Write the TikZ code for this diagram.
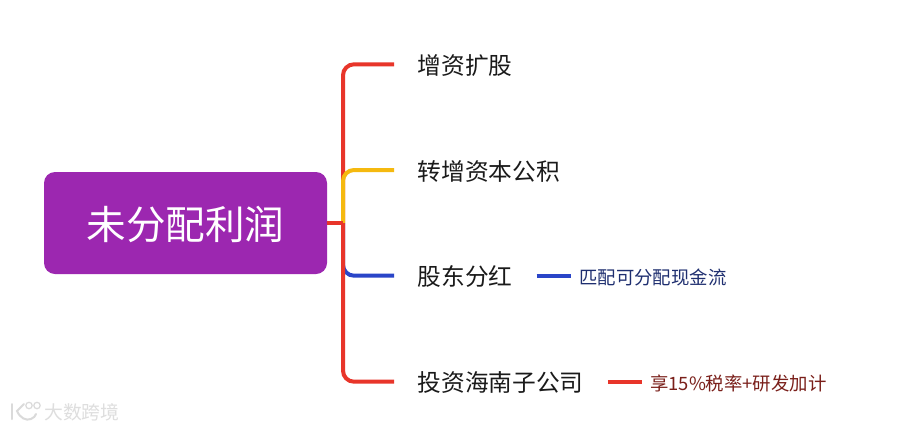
\documentclass[tikz,border=0pt]{standalone}
\usepackage{fontspec}
\setmainfont{Noto Sans CJK SC}
\definecolor{lred}{HTML}{E8352A}
\definecolor{lyellow}{HTML}{F5B90F}
\definecolor{lblue}{HTML}{2A45C8}
\definecolor{rootfill}{HTML}{9C27B0}
\definecolor{subblue}{HTML}{1F2F70}
\definecolor{subred}{HTML}{7A1F1A}
\definecolor{mainink}{HTML}{1A1A1A}
\definecolor{markink}{HTML}{DEDEDE}
\definecolor{markedge}{HTML}{DADADA}
\tikzset{
  rootbox/.style={fill=rootfill,rounded corners=11pt,minimum width=283pt,minimum height=102pt,inner sep=0pt,text=white,text height=37.4pt,text depth=5pt,font=\fontsize{39.6}{40}\selectfont},
  topic/.style={anchor=west,inner sep=0pt,text=mainink,text height=23pt,text depth=3pt,font=\fontsize{23.7}{24}\selectfont},
  subtopic/.style={anchor=west,inner sep=0pt,text height=21pt,text depth=4pt,font=\fontsize{18.4}{19}\selectfont},
  branch/.style={line width=4pt,rounded corners=11pt},
  subtwig/.style={line width=4pt,shorten <=24pt,shorten >=8pt},
  logomark/.style={draw=markedge,line width=2pt,line cap=round},
}
\begin{document}
\begin{tikzpicture}[x=1pt,y=-1pt]
\useasboundingbox (0,0) rectangle (918,429);
\fill[white] (0,0) rectangle (918,429);
\node[rootbox] (root) at (185.5,223) {未分配利润};
\node[topic] (a) at (417.5,64.3) {增资扩股};
\node[topic] (b) at (417.5,170) {转增资本公积};
\node[topic] (c) at (417.5,275.7) {股东分红};
\node[topic] (d) at (417.5,381.7) {投资海南子公司};
\node[subtopic,text=subblue] (c1) at (579,275.7) {匹配可分配现金流};
\node[subtopic,text=subred] (d1) at (650,381.7) {享15\%税率+研发加计};
\coordinate (j) at (343,223);
% branches, in the reference's stacking order
\draw[branch,lred] (j) |- ([xshift=-23.5pt]a.west);
\draw[branch,lblue] (j) |- ([xshift=-23.5pt]c.west);
\draw[branch,lyellow] (j) |- ([xshift=-23.5pt]b.west);
\draw[branch,lred] (j) |- ([xshift=-23.5pt]d.west);
\draw[lred,line width=4pt] (root.east) -- (j);
\draw[subtwig,lblue] (c.east) -- (c1.west);
\draw[subtwig,lred] (d.east) -- (d1.west);
% watermark
\draw[logomark] (11.5,404) -- (11.5,419);
\draw[logomark] (24,404) -- (17,411) .. controls (20,418) and (26,421) .. (31,419) .. controls (34,418) and (35,416) .. (36,414);
\draw[logomark,line width=1.2pt] (29,405.5) circle (3.2pt);
\draw[logomark,line width=1.2pt] (37,405.5) circle (3.2pt);
\node[inner sep=0pt,anchor=west,text=markink,font=\fontsize{18.8}{19}\selectfont] (mark) at (44,412) {大数跨境};
\end{tikzpicture}
\end{document}
